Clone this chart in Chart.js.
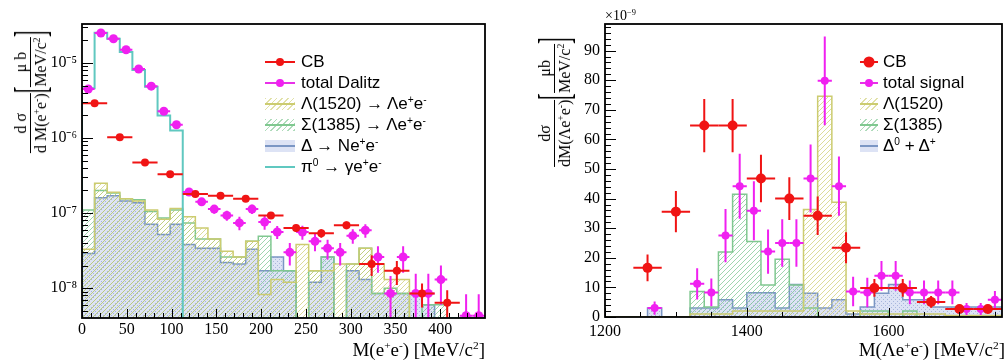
<!DOCTYPE html>
<html>
<head>
<meta charset="utf-8">
<script src="https://cdn.jsdelivr.net/npm/chart.js@4.4.1/dist/chart.umd.min.js"></script>
<style>
  body { margin:0; background:#fff; }
  #page { position:relative; width:1007px; height:361px; overflow:hidden; font-family:'Liberation Serif', serif; color:#000; }
  .pane { position:absolute; top:0; }
  .xt { position:absolute; font-size:19px; white-space:nowrap; line-height:1; }
  .xt sup, .yt sup { font-size:0.6em; vertical-align:0.6em; line-height:0; }
  .yt { position:absolute; display:flex; align-items:center; font-size:16px; white-space:nowrap; transform:translate(-50%,-50%) rotate(-90deg); }
  .frac { display:inline-flex; flex-direction:column; align-items:center; line-height:1.1; }
  .frac .den { border-top:1px solid #000; padding-top:1px; }
  .br { display:inline-block; font-size:44px; line-height:40px; transform:scale(0.45,1); margin:0 -4px; }
  .leg { position:absolute; font-family:'Liberation Sans', Arial, sans-serif; font-size:17px; }
  .row { display:flex; align-items:center; height:21px; white-space:nowrap; }
  .row sup { font-size:0.6em; vertical-align:0.6em; line-height:0; }
  .sw { position:relative; flex:none; height:12px; margin-right:6px; }
  .sw i { position:absolute; left:0; right:0; top:5px; height:2px; }
  .sw b { position:absolute; left:50%; top:50%; border-radius:50%; transform:translate(-50%,-50%); }
</style>
</head>
<body>
<div id="page">
  <canvas id="left" class="pane" width="500" height="361" style="left:0"></canvas>
  <canvas id="right" class="pane" width="507" height="361" style="left:500px"></canvas>

  <div class="yt" style="left:31px;top:92px">
    <span class="frac"><span>d σ</span><span class="den">d M(e<sup>+</sup>e<sup>-</sup>)</span></span>
    <span class="br">[</span>
    <span class="frac"><span>μ b</span><span class="den">MeV/c<sup>2</sup></span></span>
    <span class="br">]</span>
  </div>
  <div class="yt" style="left:555px;top:102px">
    <span class="frac"><span>dσ</span><span class="den">dM(Λe<sup>+</sup>e<sup>-</sup>)</span></span>
    <span class="br">[</span>
    <span class="frac"><span>μb</span><span class="den">MeV/c<sup>2</sup></span></span>
    <span class="br">]</span>
  </div>
  <div class="xt" style="right:522px;top:340px">M(e<sup>+</sup>e<sup>-</sup>) [MeV/c<sup>2</sup>]</div>
  <div class="xt" style="right:2px;top:340px">M(Λe<sup>+</sup>e<sup>-</sup>) [MeV/c<sup>2</sup>]</div>
  <div class="xt" style="left:605px;top:9px;font-size:14px">×10<sup>−9</sup></div>

  <div class="leg" style="left:265px;top:51px">
    <div class="row"><span class="sw" style="width:30px"><i style="background:#f01414"></i><b style="width:8px;height:8px;background:#f01414"></b></span><span>CB</span></div>
    <div class="row"><span class="sw" style="width:30px"><i style="background:#e830e8"></i><b style="width:8px;height:8px;background:#f020f0"></b></span><span>total Dalitz</span></div>
    <div class="row"><span class="sw" style="width:30px;background:repeating-linear-gradient(135deg,rgba(205,205,110,.6) 0 1px,transparent 1px 4px)"><i style="background:#cccc70"></i></span><span>Λ(1520) → Λe<sup>+</sup>e<sup>-</sup></span></div>
    <div class="row"><span class="sw" style="width:30px;background:repeating-linear-gradient(135deg,rgba(120,195,140,.6) 0 1px,transparent 1px 4px)"><i style="background:#80c890"></i></span><span>Σ(1385) → Λe<sup>+</sup>e<sup>-</sup></span></div>
    <div class="row"><span class="sw" style="width:30px;background:#dde3f5"><i style="background:#7b96c4"></i></span><span>Δ → Ne<sup>+</sup>e<sup>-</sup></span></div>
    <div class="row"><span class="sw" style="width:30px"><i style="background:#60c8c0"></i></span><span>π<sup>0</sup> → γe<sup>+</sup>e<sup>-</sup></span></div>
  </div>

  <div class="leg" style="left:860px;top:51px">
    <div class="row"><span class="sw" style="width:18px;margin-right:5px"><i style="background:#f01414"></i><b style="width:11px;height:11px;background:#f01414"></b></span><span>CB</span></div>
    <div class="row"><span class="sw" style="width:18px;margin-right:5px"><i style="background:#e830e8"></i><b style="width:8px;height:8px;background:#f020f0"></b></span><span>total signal</span></div>
    <div class="row"><span class="sw" style="width:18px;margin-right:5px;background:repeating-linear-gradient(135deg,rgba(205,205,110,.6) 0 1px,transparent 1px 4px)"><i style="background:#cccc70"></i></span><span>Λ(1520)</span></div>
    <div class="row"><span class="sw" style="width:18px;margin-right:5px;background:repeating-linear-gradient(135deg,rgba(120,195,140,.6) 0 1px,transparent 1px 4px)"><i style="background:#80c890"></i></span><span>Σ(1385)</span></div>
    <div class="row"><span class="sw" style="width:18px;margin-right:5px;background:#dde3f5"><i style="background:#7b96c4"></i></span><span>Δ<sup>0</sup> + Δ<sup>+</sup></span></div>
  </div>
</div>

<script>
// ---- left panel: M(e+e-), 32 fine bins (0-450 MeV) for the Dalitz histos, 16 coarse bins for CB
const LEFT_X_TICKS = [0, 50, 100, 150, 200, 250, 300, 350, 400];
const LEFT_Y_TICKS = [1e-8, 1e-7, 1e-6, 1e-5];
const LEFT_Y_LABELS = ['10⁻⁸', '10⁻⁷', '10⁻⁶', '10⁻⁵'];

const LEFT_CB = [2.9e-6, 1.02e-6, 4.7e-7, 3.3e-7, 1.8e-7, 1.7e-7, 1.55e-7, 9.3e-8, 6.3e-8, 5.4e-8, 6.9e-8, 2.1e-8, 1.7e-8, 8.5e-9, 6.4e-9, null];
const LEFT_CB_ERR = [8e-8, 4e-8, 2.5e-8, 2e-8, 1.2e-8, 1.1e-8, 1.1e-8, 8e-9, 7e-9, 7e-9, 8e-9, 6.5e-9, 6e-9, 3e-9, 3e-9, null];

const LEFT_TOTAL = [4.5e-6, 2.5e-5, 2.1e-5, 1.5e-5, 8.3e-6, 4.9e-6, 2.27e-6, 1.5e-6, 1.91e-7, 1.41e-7, 1.13e-7, 9.3e-8, 7.4e-8, 1.13e-7, 7.6e-8, 5.6e-8,
                    3.0e-8, 5.6e-8, 4.2e-8, 3.4e-8, 3.0e-8, 5.0e-8, 5.9e-8, 2.6e-8, 8.5e-9, 2.6e-8, 8.5e-9, 8.5e-9, 1.3e-8, null, 4.3e-9, 4.3e-9];
const LEFT_TOTAL_ERR = [1.5e-7, 5e-7, 4e-7, 3e-7, 2e-7, 1.5e-7, 1e-7, 8e-8, 1.5e-8, 1.5e-8, 1.5e-8, 1.4e-8, 1.5e-8, 1.6e-8, 1.6e-8, 1.1e-8,
                        1e-8, 1.2e-8, 1.1e-8, 1e-8, 1e-8, 1.1e-8, 1.2e-8, 1e-8, 6e-9, 1e-8, 7e-9, 7e-9, 7e-9, null, 4e-9, 4e-9];

const LEFT_LAMBDA = [3.3e-8, 2.5e-7, 1.9e-7, 1.55e-7, 1.45e-7, 1.1e-7, 8.3e-8, 1.15e-7, 8.9e-8, 6.3e-8, 4.5e-8, 3.1e-8, 2.6e-8, 4.2e-8, 8.2e-9, 1.3e-8,
                     1.2e-8, 3.8e-8, 1.7e-8, 1.7e-8, 2.1e-8, 2.1e-8, 3.4e-8, 2.1e-8, 1.3e-8, 1.3e-8, 0, 0, 0, 0, 0, 0];
const LEFT_SIGMA = [1.1e-7, 2.0e-7, 1.85e-7, 1.55e-7, 1.5e-7, 1.05e-7, 8.6e-8, 1.1e-7, 7.4e-8, 4.5e-8, 4.5e-8, 2.6e-8, 2.6e-8, 4.2e-8, 4.9e-8, 1.7e-8,
                    1.7e-8, 0, 1.7e-8, 2.6e-8, 0, 2.1e-8, 3.4e-8, 8.5e-9, 1e-8, 8.5e-9, 0, 6e-9, 6e-9, 0, 0, 0];
const LEFT_DELTA = [2.9e-8, 1.6e-7, 1.7e-7, 1.45e-7, 1.37e-7, 7.1e-8, 5.2e-8, 7.1e-8, 3.8e-8, 3.4e-8, 3.4e-8, 2.2e-8, 2.1e-8, 3.3e-8, 1.7e-8, 2.6e-8,
                    1.7e-8, 0, 1.2e-8, 2.6e-8, 0, 1.7e-8, 1.3e-8, 8.5e-9, 8.5e-9, 8.5e-9, 8.5e-9, 6e-9, 0, 0, 0, 0];
const LEFT_PI0 = [4.6e-6, 2.53e-5, 2.1e-5, 1.4e-5, 8.05e-6, 4.8e-6, 2.0e-6, 1.26e-6, 0, 0, 0, 0, 0, 0, 0, 0,
                  0, 0, 0, 0, 0, 0, 0, 0, 0, 0, 0, 0, 0, 0, 0, 0];

// ---- right panel: M(Λe+e-), 28 bins of 20 MeV (1200-1760), CB in 14 bins of 40 MeV
const RIGHT_X_TICKS = [1200, 1400, 1600];
const RIGHT_X_LABELS = ['1200', '1400', '1600'];
const RIGHT_Y_TICKS = [0, 10, 20, 30, 40, 50, 60, 70, 80, 90];

const RIGHT_CB = [null, 16.6, 35.6, 64.7, 64.7, 46.8, 40, 34.2, 23.4, 9.8, 9.8, 5.1, 2.7, 2.7];
const RIGHT_CB_ERR = [null, 4.5, 7, 9, 9, 8, 7.2, 6.5, 5.2, 3, 3, 2, 1.5, 1.5];

const RIGHT_TOTAL = [null, null, null, 3, null, null, 11.2, 8.3, 27.5, 44.2, 35.9, 22.1, 25, 25,
                     46.8, 79.8, 44.2, 8.6, 8.3, 13.9, 13.9, 8.3, 8.3, 8.3, 8.3, 2.7, 2.7, 5.8];
const RIGHT_TOTAL_ERR = [null, null, null, 2.2, null, null, 5.3, 4.7, 9, 11, 10, 7.5, 8, 8,
                         11.5, 15, 10, 5, 5, 5, 5, 4, 4, 4, 4, 2, 2, 3];

const RIGHT_LAMBDA = [0, 0, 0, 0, 0, 0, 1, 1, 1, 2, 2, 2, 2, 2, 36.3, 74.6, 38.8, 2, 1, 1, 1, 1, 1, 1, 0.5, 0.5, 0.5, 0.5];
const RIGHT_SIGMA = [0, 0, 0, 0, 0, 0, 8.6, 3.4, 22, 41.5, 25.5, 10.8, 19.5, 10.8, 3, 0, 0, 0, 2, 2, 0, 2, 0, 0, 0, 0, 0, 0];
const RIGHT_DELTA = [0, 0, 0, 3, 0, 0, 3, 3, 5.8, 3, 8.2, 8.2, 3, 11, 8, 3, 5.8, 1, 3.4, 8, 11, 5.8, 5.8, 3.4, 3.4, 3.4, 3.4, 3.4];

// colours
const RED = '#f01414', MAG = '#f020f0', LAM = '#cccc70', SIG = '#80c890', DEL = '#7b96c4', PI0 = '#60c8c0';
const SERIF = 'Liberation Serif';

function edgesOf(lo, hi, n) { const w = (hi - lo) / n; return Array.from({length: n + 1}, (_, i) => lo + i * w); }
function centersOf(e) { return e.slice(0, -1).map((v, i) => (v + e[i + 1]) / 2); }

// points at bin lower edges, drawn with stepped:true (hold value until next edge)
function stepPoints(edges, vals, floor) {
    const f = v => (v > 0 ? v : floor);
    const pts = [{x: edges[0], y: floor}];
    vals.forEach((v, i) => pts.push({x: edges[i], y: f(v)}));
    pts.push({x: edges[vals.length], y: f(vals[vals.length - 1])});
    pts.push({x: edges[vals.length], y: floor});
    return pts;
}
function markerPoints(centers, vals, errs) {
    return centers.map((x, i) => ({x: x, y: vals[i], e: errs[i]})).filter(p => p.y != null);
}

function hatch(color) {
    const c = document.createElement('canvas'); c.width = c.height = 5;
    const g = c.getContext('2d');
    g.strokeStyle = color; g.lineWidth = 1;
    g.beginPath(); g.moveTo(0, 5); g.lineTo(5, 0); g.moveTo(-1, 1); g.lineTo(1, -1); g.moveTo(4, 6); g.lineTo(6, 4); g.stroke();
    return g.createPattern(c, 'repeat');
}
function dots(bg, dot) {
    const c = document.createElement('canvas'); c.width = c.height = 4;
    const g = c.getContext('2d');
    g.fillStyle = bg; g.fillRect(0, 0, 4, 4);
    g.fillStyle = dot; g.fillRect(1, 1, 1, 1); g.fillRect(3, 3, 1, 1);
    return g.createPattern(c, 'repeat');
}

function histo(pts, color, fill, width) {
    return { data: pts, borderColor: color, borderWidth: width || 1.5, stepped: true, pointRadius: 0,
             fill: fill ? 'start' : false, backgroundColor: fill || 'transparent' };
}
function markers(pts, color, r, halfW) {
    return { data: pts, showLine: false, pointRadius: r, pointStyle: 'circle', pointBackgroundColor: color,
             pointBorderWidth: 0, borderColor: color, errColor: color, halfW: halfW };
}

// error bars drawn right before the marker dataset so markers sit on top
const errorBars = {
    id: 'errorBars',
    beforeDatasetDraw(chart, args) {
        const ds = chart.data.datasets[args.index];
        if (!ds.errColor) return;
        const sx = chart.scales.x, sy = chart.scales.y, a = chart.chartArea, ctx = chart.ctx;
        ctx.save();
        ctx.beginPath(); ctx.rect(a.left, a.top, a.right - a.left, a.bottom - a.top); ctx.clip();
        ctx.strokeStyle = ds.errColor; ctx.lineWidth = 2;
        ds.data.forEach(p => {
            const x = sx.getPixelForValue(p.x), y = sy.getPixelForValue(p.y);
            const lo = p.y - p.e;
            const yTop = sy.getPixelForValue(p.y + p.e), yBot = lo > 0 ? sy.getPixelForValue(lo) : a.bottom;
            ctx.beginPath();
            ctx.moveTo(sx.getPixelForValue(p.x - ds.halfW), y); ctx.lineTo(sx.getPixelForValue(p.x + ds.halfW), y);
            ctx.moveTo(x, yBot); ctx.lineTo(x, yTop);
            ctx.stroke();
        });
        ctx.restore();
    }
};

// ROOT-like frame with inward ticks
function frameTicks(spec) {
    return {
        id: 'frameTicks',
        afterDatasetsDraw(chart) {
            const {ctx, chartArea: a} = chart, sx = chart.scales.x, sy = chart.scales.y;
            ctx.save();
            ctx.strokeStyle = '#000'; ctx.lineWidth = 1;
            ctx.beginPath();
            spec.xMajor.forEach(v => { const p = Math.round(sx.getPixelForValue(v)) + 0.5; ctx.moveTo(p, a.bottom); ctx.lineTo(p, a.bottom - 9); });
            spec.xMinor.forEach(v => { const p = Math.round(sx.getPixelForValue(v)) + 0.5; ctx.moveTo(p, a.bottom); ctx.lineTo(p, a.bottom - 5); });
            spec.yMajor.forEach(v => { const p = Math.round(sy.getPixelForValue(v)) + 0.5; ctx.moveTo(a.left, p); ctx.lineTo(a.left + 11, p); });
            spec.yMinor.forEach(v => { const p = Math.round(sy.getPixelForValue(v)) + 0.5; ctx.moveTo(a.left, p); ctx.lineTo(a.left + 6, p); });
            ctx.stroke();
            ctx.lineWidth = 1.8;
            ctx.strokeRect(a.left, a.top, a.right - a.left, a.bottom - a.top);
            ctx.restore();
        }
    };
}

function axes(x, y, yWidth, xHeight) {
    const font = {family: SERIF, size: 16};
    return {
        x: Object.assign({ grid: {display: false, drawTicks: false, tickLength: 0}, border: {display: false},
            afterFit: s => { s.height = xHeight; },
            ticks: {font: font, color: '#000', autoSkip: false, maxRotation: 0, padding: 3} }, x),
        y: Object.assign({ grid: {display: false, drawTicks: false, tickLength: 0}, border: {display: false}, bounds: 'data',
            afterFit: s => { s.width = yWidth; },
            ticks: {font: font, color: '#000', autoSkip: false, padding: 5} }, y)
    };
}

function makeChart(id, datasets, scales, padding, spec) {
    return new Chart(document.getElementById(id), {
        type: 'line',
        data: { datasets: datasets },
        options: {
            responsive: false, animation: false, devicePixelRatio: 1, events: [],
            layout: { padding: padding },
            plugins: { legend: {display: false}, tooltip: {enabled: false} },
            scales: scales
        },
        plugins: [errorBars, frameTicks(spec)]
    });
}

// ---------- left chart
const L_MIN = 4e-9, L_MAX = 3.3e-5;
const lFine = edgesOf(0, 450, 32), lCoarse = edgesOf(0, 450, 16);
const lMinorY = [];
[1e-9, 1e-8, 1e-7, 1e-6, 1e-5].forEach(d => { for (let m = 2; m <= 9; m++) { const v = d * m; if (v > L_MIN && v < L_MAX) lMinorY.push(v); } });
const lMinorX = []; for (let v = 10; v < 450; v += 10) if (v % 50) lMinorX.push(v);

const lScales = axes(
    { type: 'linear', min: 0, max: 450, afterBuildTicks: s => { s.ticks = LEFT_X_TICKS.map(v => ({value: v})); } },
    { type: 'logarithmic', min: L_MIN, max: L_MAX, afterBuildTicks: s => { s.ticks = LEFT_Y_TICKS.map(v => ({value: v})); } },
    82, 43);
lScales.y.ticks.callback = (v, i) => LEFT_Y_LABELS[i];
lScales.x.ticks.padding = 2;

makeChart('left', [
    markers(markerPoints(centersOf(lCoarse), LEFT_CB, LEFT_CB_ERR), RED, 4, 225 / 16),
    markers(markerPoints(centersOf(lFine), LEFT_TOTAL, LEFT_TOTAL_ERR), MAG, 4.5, 225 / 32),
    histo(stepPoints(lFine, LEFT_PI0, L_MIN), PI0, null, 2),
    histo(stepPoints(lFine, LEFT_LAMBDA, L_MIN), LAM, hatch('rgba(205,205,110,0.7)')),
    histo(stepPoints(lFine, LEFT_SIGMA, L_MIN), SIG, hatch('rgba(120,195,140,0.7)')),
    histo(stepPoints(lFine, LEFT_DELTA, L_MIN), DEL, dots('#dde3f5', '#a8b6dc'))
], lScales, {top: 24, right: 15, left: 0, bottom: 0},
   {xMajor: LEFT_X_TICKS, xMinor: lMinorX, yMajor: LEFT_Y_TICKS, yMinor: lMinorY});

// ---------- right chart
const R_MIN = 0, R_MAX = 99;
const rFine = edgesOf(1200, 1760, 28), rCoarse = edgesOf(1200, 1760, 14);
const rMinorY = []; for (let v = 2; v < R_MAX; v += 2) if (v % 10) rMinorY.push(v);
const rMinorX = []; for (let v = 1250; v < 1760; v += 50) if (v % 200) rMinorX.push(v);

const rScales = axes(
    { type: 'linear', min: 1200, max: 1760, afterBuildTicks: s => { s.ticks = RIGHT_X_TICKS.map(v => ({value: v})); } },
    { type: 'linear', min: R_MIN, max: R_MAX, afterBuildTicks: s => { s.ticks = RIGHT_Y_TICKS.map(v => ({value: v})); } },
    105, 44);
rScales.x.ticks.callback = (v, i) => RIGHT_X_LABELS[i];
rScales.x.ticks.padding = 5;

makeChart('right', [
    markers(markerPoints(centersOf(rCoarse), RIGHT_CB, RIGHT_CB_ERR), RED, 5, 20),
    markers(markerPoints(centersOf(rFine), RIGHT_TOTAL, RIGHT_TOTAL_ERR), MAG, 4, 10),
    histo(stepPoints(rFine, RIGHT_LAMBDA, R_MIN), LAM, hatch('rgba(205,205,110,0.7)')),
    histo(stepPoints(rFine, RIGHT_SIGMA, R_MIN), SIG, hatch('rgba(120,195,140,0.7)')),
    histo(stepPoints(rFine, RIGHT_DELTA, R_MIN), DEL, dots('#dde3f5', '#a8b6dc'))
], rScales, {top: 24, right: 2, left: 0, bottom: 0},
   {xMajor: RIGHT_X_TICKS, xMinor: rMinorX, yMajor: RIGHT_Y_TICKS, yMinor: rMinorY});
</script>
</body>
</html>
